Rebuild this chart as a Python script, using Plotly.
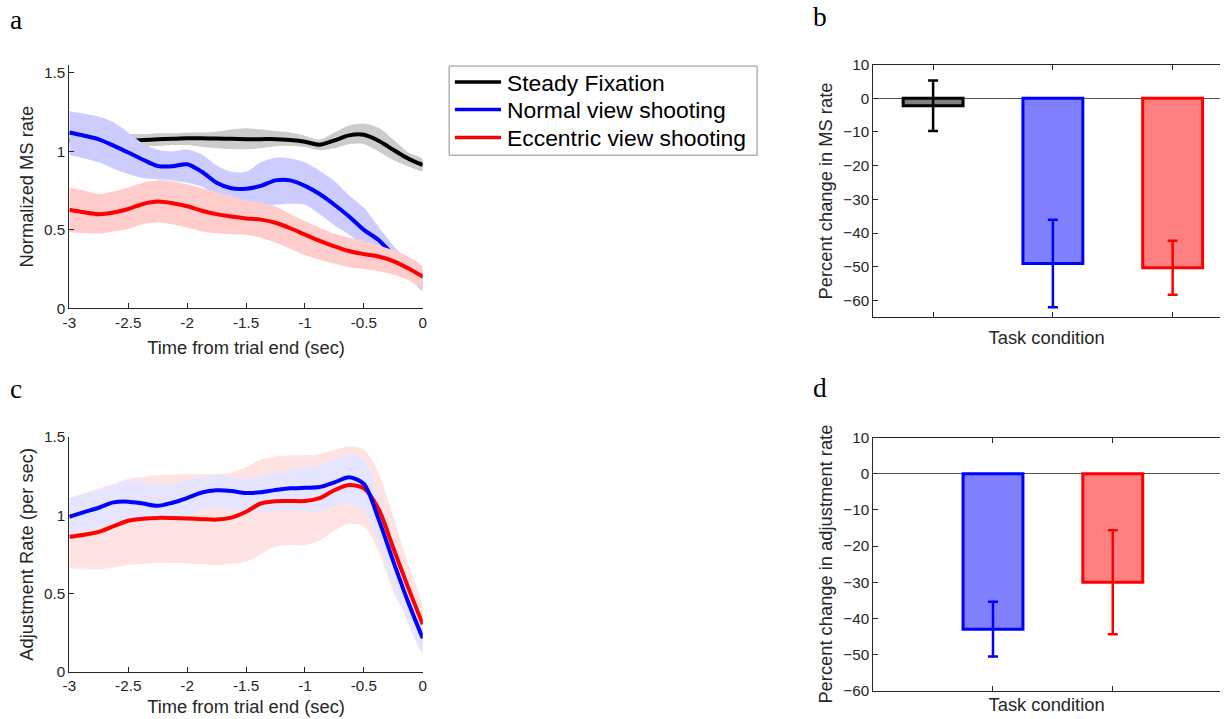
import plotly.graph_objects as go

W, H = 1224, 719

# ---------------- data ----------------
t = [-3, -2.875, -2.75, -2.625, -2.5, -2.375, -2.25, -2.125, -2, -1.875, -1.75, -1.625,
     -1.5, -1.375, -1.25, -1.125, -1, -0.875, -0.75, -0.625, -0.5, -0.375, -0.25, -0.125, 0]

# Panel a: normalized MS rate (mean and band limits)
fix_mean = [1.07, 1.07, 1.07, 1.07, 1.068, 1.072, 1.077, 1.08, 1.083, 1.083, 1.082, 1.08,
            1.078, 1.078, 1.078, 1.072, 1.061, 1.042, 1.07, 1.102, 1.106, 1.068, 1.01, 0.955, 0.914]
fix_hi = [1.11, 1.11, 1.11, 1.11, 1.11, 1.11, 1.115, 1.115, 1.12, 1.12, 1.125, 1.14,
          1.148, 1.14, 1.13, 1.12, 1.10, 1.075, 1.12, 1.165, 1.178, 1.15, 1.075, 0.995, 0.951]
fix_lo = [1.035, 1.035, 1.035, 1.035, 1.035, 1.035, 1.035, 1.04, 1.04, 1.03, 1.02, 1.015,
          1.014, 1.02, 1.033, 1.035, 1.028, 1.008, 1.02, 1.046, 1.046, 1.0, 0.945, 0.905, 0.876]

nor_mean = [1.12, 1.10, 1.077, 1.037, 0.993, 0.947, 0.907, 0.905, 0.918, 0.87, 0.80, 0.765,
            0.762, 0.78, 0.815, 0.815, 0.78, 0.728, 0.66, 0.585, 0.50, 0.435, 0.34, 0.26, 0.19]
nor_hi = [1.258, 1.24, 1.222, 1.185, 1.12, 1.05, 1.01, 1.0, 1.012, 0.98, 0.91, 0.87,
          0.87, 0.93, 0.96, 0.955, 0.93, 0.876, 0.81, 0.72, 0.64, 0.52, 0.40, 0.30, 0.22]
nor_lo = [0.978, 0.955, 0.93, 0.89, 0.856, 0.83, 0.822, 0.815, 0.80, 0.775, 0.72, 0.70,
          0.686, 0.65, 0.66, 0.665, 0.66, 0.60, 0.53, 0.47, 0.39, 0.33, 0.265, 0.20, 0.113]

ecc_mean = [0.628, 0.612, 0.60, 0.61, 0.633, 0.665, 0.68, 0.67, 0.65, 0.622, 0.60, 0.585,
            0.573, 0.565, 0.545, 0.51, 0.47, 0.43, 0.395, 0.365, 0.345, 0.33, 0.30, 0.255, 0.202]
ecc_hi = [0.77, 0.75, 0.728, 0.745, 0.77, 0.80, 0.815, 0.81, 0.79, 0.765, 0.74, 0.715,
          0.686, 0.672, 0.648, 0.60, 0.555, 0.515, 0.475, 0.45, 0.43, 0.40, 0.37, 0.33, 0.262]
ecc_lo = [0.484, 0.48, 0.477, 0.49, 0.506, 0.535, 0.548, 0.535, 0.515, 0.49, 0.478, 0.472,
          0.469, 0.45, 0.418, 0.38, 0.34, 0.31, 0.285, 0.262, 0.25, 0.236, 0.215, 0.18, 0.134]

# Panel c: adjustment rate (mean and band limits)
adj_nor_mean = [0.99, 1.02, 1.048, 1.082, 1.087, 1.075, 1.06, 1.08, 1.11, 1.145, 1.159, 1.155,
                1.142, 1.147, 1.162, 1.172, 1.176, 1.18, 1.21, 1.243, 1.20, 0.975, 0.705, 0.447, 0.213]
adj_nor_hi = [1.11, 1.135, 1.159, 1.19, 1.223, 1.21, 1.197, 1.2, 1.225, 1.24, 1.255, 1.245,
              1.234, 1.25, 1.275, 1.29, 1.308, 1.317, 1.36, 1.39, 1.36, 1.12, 0.82, 0.55, 0.319]
adj_nor_lo = [0.879, 0.90, 0.926, 0.955, 0.979, 0.97, 0.958, 0.975, 1.0, 1.035, 1.048, 1.035,
              1.021, 1.021, 1.025, 1.032, 1.021, 1.03, 1.055, 1.08, 1.03, 0.82, 0.55, 0.31, 0.117]

adj_ecc_mean = [0.862, 0.875, 0.894, 0.93, 0.965, 0.978, 0.983, 0.982, 0.979, 0.975, 0.972, 0.985,
                1.022, 1.075, 1.09, 1.091, 1.091, 1.11, 1.16, 1.193, 1.172, 1.04, 0.79, 0.54, 0.302]
adj_ecc_hi = [1.106, 1.14, 1.17, 1.2, 1.234, 1.245, 1.255, 1.26, 1.266, 1.264, 1.262, 1.27,
              1.308, 1.355, 1.375, 1.383, 1.383, 1.392, 1.418, 1.44, 1.42, 1.27, 0.99, 0.69, 0.415]
adj_ecc_lo = [0.66, 0.657, 0.654, 0.665, 0.681, 0.69, 0.696, 0.694, 0.692, 0.688, 0.681, 0.69,
              0.702, 0.752, 0.80, 0.809, 0.809, 0.84, 0.90, 0.945, 0.93, 0.77, 0.51, 0.34, 0.224]

# Panel b: percent change in MS rate
ms_x = [1, 2, 3]
ms_change = [-2.2, -49.0, -50.3]
ms_err = [7.5, 13.0, 8.0]

# Panel d: percent change in adjustment rate
adj_x = [1, 2]
adj_change = [-43.0, -30.0]
adj_err = [7.6, 14.4]

legend_labels = ["Steady Fixation", "Normal view shooting", "Eccentric view shooting"]
tick_time = [-3, -2.5, -2, -1.5, -1, -0.5, 0]
tick_time_text = ["-3", "-2.5", "-2", "-1.5", "-1", "-0.5", "0"]

# ---------------- geometry helpers ----------------
# The page is photographed with an 8 px body margin and then scaled to 1224x719,
# so target screen positions are converted back to paper positions.
SX = (W + 16) / W
SY = (H + 16) / H


def ppx(d):          # screen x (px) -> paper px
    return d * SX - 8


def ppy(d):          # screen y (px) -> paper px (from top)
    return d * SY - 8


def px(d):
    return ppx(d) / W


def py(d):
    return 1 - ppy(d) / H


FS = 0.5 * (SX + SY)   # font compensation

FONT = "Liberation Sans"
AX = "#262626"
fig = go.Figure()


def band(xs, lo, hi, color, xa, ya):
    fig.add_trace(go.Scatter(
        x=list(xs) + list(xs)[::-1], y=list(hi) + list(lo)[::-1],
        fill="toself", fillcolor=color, mode="lines",
        line=dict(width=0, shape="spline", smoothing=0.8, color=color),
        hoverinfo="skip", showlegend=False, xaxis=xa, yaxis=ya))


def line(xs, ys, color, xa, ya):
    fig.add_trace(go.Scatter(
        x=xs, y=ys, mode="lines",
        line=dict(color=color, width=4, shape="spline", smoothing=0.8),
        showlegend=False, xaxis=xa, yaxis=ya))


# panel a
band(t, fix_lo, fix_hi, "#cccccc", "x", "y")
line(t, fix_mean, "#000000", "x", "y")
band(t, nor_lo, nor_hi, "#ccccff", "x", "y")
line(t, nor_mean, "#0000ff", "x", "y")
band(t, ecc_lo, ecc_hi, "#ffcccc", "x", "y")
line(t, ecc_mean, "#ff0000", "x", "y")

# panel c
band(t, adj_ecc_lo, adj_ecc_hi, "#ffe3e3", "x3", "y3")
band(t, adj_nor_lo, adj_nor_hi, "#e5e5ff", "x3", "y3")
line(t, adj_ecc_mean, "#ff0000", "x3", "y3")
line(t, adj_nor_mean, "#0000ff", "x3", "y3")

# panel b bars
b_fill = ["#808080", "#8080ff", "#ff8080"]
b_edge = ["#000000", "#0000ff", "#ff0000"]
for i in range(len(ms_x)):
    fig.add_trace(go.Bar(
        x=[ms_x[i]], y=[ms_change[i]], width=0.5,
        marker=dict(color=b_fill[i], line=dict(color=b_edge[i], width=3)),
        error_y=dict(type="data", array=[ms_err[i]], color=b_edge[i], thickness=2.5, width=5),
        showlegend=False, xaxis="x2", yaxis="y2"))

# panel d bars
d_fill = ["#8080ff", "#ff8080"]
d_edge = ["#0000ff", "#ff0000"]
for i in range(len(adj_x)):
    fig.add_trace(go.Bar(
        x=[adj_x[i]], y=[adj_change[i]], width=0.5,
        marker=dict(color=d_fill[i], line=dict(color=d_edge[i], width=3)),
        error_y=dict(type="data", array=[adj_err[i]], color=d_edge[i], thickness=2.5, width=5),
        showlegend=False, xaxis="x4", yaxis="y4"))

tickfont = dict(family=FONT, size=15 * FS, color=AX)
titlefont = dict(family=FONT, size=18 * FS, color=AX)

common = dict(showgrid=False, zeroline=False, showline=True, linecolor=AX, linewidth=1,
              ticks="inside", ticklen=5, tickcolor=AX, tickfont=tickfont)

xa_dom = [px(70), px(422)]
xb_dom = [px(870.7), 1.0]
# bar panels: 119.3 screen px per category unit
unit_b = 119.3 * SX
span_b = (W - ppx(870.7)) / unit_b

fig.update_layout(
    width=W, height=H, margin=dict(l=0, r=0, t=0, b=0),
    paper_bgcolor="white", plot_bgcolor="white", barmode="overlay",
    showlegend=False,
    xaxis=dict(domain=xa_dom, range=[-3, 0], anchor="y", tickvals=tick_time, ticktext=tick_time_text,
               title=dict(text="Time from trial end (sec)", font=titlefont, standoff=11), **common),
    yaxis=dict(domain=[py(307.7), py(64)], range=[0, 1.55], anchor="x",
               tickvals=[0, 0.5, 1, 1.5], ticktext=["0", "0.5", "1", "1.5"],
               title=dict(text="Normalized MS rate", font=titlefont, standoff=5), **common),
    xaxis3=dict(domain=xa_dom, range=[-3, 0], anchor="y3", tickvals=tick_time, ticktext=tick_time_text,
                title=dict(text="Time from trial end (sec)", font=titlefont, standoff=7), **common),
    yaxis3=dict(domain=[py(671.7), py(436.7)], range=[0, 1.5], anchor="x3",
                tickvals=[0, 0.5, 1, 1.5], ticktext=["0", "0.5", "1", "1.5"],
                title=dict(text="Adjustment Rate (per sec)", font=titlefont, standoff=5), **common),
    xaxis2=dict(domain=xb_dom, range=[0.5, 0.5 + span_b], anchor="y2", tickvals=ms_x, showticklabels=False,
                mirror="ticks",
                title=dict(text="Task condition", font=titlefont, standoff=13), **common),
    yaxis2=dict(domain=[py(316.8), py(63.5)], range=[-65, 10], anchor="x2",
                tickvals=[10, 0, -10, -20, -30, -40, -50, -60],
                title=dict(text="Percent change in MS rate", font=titlefont, standoff=5),
                **{**common, "zeroline": True, "zerolinecolor": "#555555", "zerolinewidth": 1}),
    xaxis4=dict(domain=xb_dom, range=[0, span_b], anchor="y4", tickvals=adj_x, showticklabels=False,
                mirror="ticks",
                title=dict(text="Task condition", font=titlefont, standoff=7), **common),
    yaxis4=dict(domain=[py(690.7), py(437.3)], range=[-60, 10], anchor="x4",
                tickvals=[10, 0, -10, -20, -30, -40, -50, -60],
                title=dict(text="Percent change in adjustment rate", font=titlefont, standoff=5),
                **{**common, "zeroline": True, "zerolinecolor": "#555555", "zerolinewidth": 1}),
)

# manual legend (box, line samples, labels)
shapes = [dict(type="rect", xref="paper", yref="paper", x0=px(448.3), x1=px(755), y0=py(65), y1=py(154.3),
               line=dict(color="#8c8c8c", width=1), fillcolor="white", layer="above")]
leg_colors = ["#000000", "#0000ff", "#ff0000"]
leg_y = [81, 108.5, 136.5]
annotations = []
for lab, col, yy in zip(legend_labels, leg_colors, leg_y):
    shapes.append(dict(type="line", xref="paper", yref="paper", x0=px(454), x1=px(500), y0=py(yy), y1=py(yy),
                       line=dict(color=col, width=3.5), layer="above"))
    annotations.append(dict(text=lab, xref="paper", yref="paper", x=px(504), y=py(yy + 1), xanchor="left",
                            yanchor="middle", showarrow=False,
                            font=dict(family=FONT, size=22.5 * FS, color="black")))

for lab, xx, yy in [("a", 17, 18.5), ("b", 818, 16), ("c", 17, 388.5), ("d", 818, 387.5)]:
    annotations.append(dict(text=lab, xref="paper", yref="paper", x=px(xx), y=py(yy), xanchor="center",
                            yanchor="middle", showarrow=False,
                            font=dict(family="Liberation Serif", size=27 * FS, color="black")))

fig.update_layout(shapes=shapes, annotations=annotations)

fig.write_html("out.html")
